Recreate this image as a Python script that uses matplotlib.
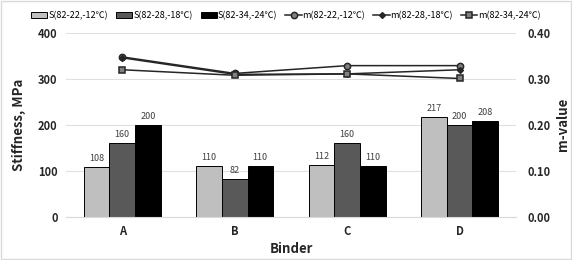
import numpy as np
import matplotlib.pyplot as plt
from matplotlib.patches import Rectangle

plt.rcParams['font.family'] = ['Noto Sans CJK KR', 'DejaVu Sans']

# data
binders = ['A', 'B', 'C', 'D']
s_22 = [108, 110, 112, 217]
s_28 = [160, 82, 160, 200]
s_34 = [200, 110, 110, 208]
m_22 = [0.348, 0.312, 0.329, 0.329]
m_28 = [0.346, 0.310, 0.311, 0.320]
m_34 = [0.320, 0.308, 0.311, 0.301]
s_names = ['S(82-22,-12\u2103)', 'S(82-28,-18\u2103)', 'S(82-34,-24\u2103)']
m_names = ['m(82-22,-12\u2103)', 'm(82-28,-18\u2103)', 'm(82-34,-24\u2103)']

fig = plt.figure(figsize=(5.72, 2.6), dpi=100)
ax = fig.add_axes([0.1154, 0.1665, 0.7866, 0.7065])
ax2 = ax.twinx()

x = np.arange(len(binders))
w = 0.227
bar_cols = ['#bfbfbf', '#595959', '#000000']
bars = []
for i, (vals, c, nm) in enumerate(zip([s_22, s_28, s_34], bar_cols, s_names)):
    b = ax.bar(x + (i - 1) * w, vals, w, color=c, edgecolor='black', linewidth=0.7, label=nm, zorder=2)
    ax.bar_label(b, padding=3, fontsize=6.5, color='#404040')
    bars.append(b)

ax.set_xlim(-0.5, 3.5)
ax.set_ylim(0, 400)
ax.set_yticks([0, 100, 200, 300, 400])
ax.set_xticks(x)
ax.set_xticklabels(binders)
ax.grid(axis='y', color='#e0e0e0', linewidth=0.8, zorder=0)
ax.set_axisbelow(True)
for sp in ax.spines.values():
    sp.set_visible(False)
for sp in ax2.spines.values():
    sp.set_visible(False)
ax.spines['bottom'].set_visible(True)
ax.spines['bottom'].set_color('#d9d9d9')
ax.tick_params(length=0, labelsize=8, pad=6)
for t in ax.get_yticklabels() + ax.get_xticklabels():
    t.set_fontweight('bold')
    t.set_color('#262626')
ax.set_ylabel('Stiffness, MPa', fontsize=9.5, fontweight='bold', color='#262626', labelpad=9)
ax.set_xlabel('Binder', fontsize=9.5, fontweight='bold', color='#262626', labelpad=3)

l1, = ax2.plot(x, m_22, color='#262626', lw=1.1, marker='o', ms=4.5, mfc='#808080', mec='#262626', mew=1.1, label=m_names[0])
l2, = ax2.plot(x, m_28, color='#262626', lw=1.1, marker='D', ms=3, mfc='#262626', mec='#262626', label=m_names[1])
l3, = ax2.plot(x, m_34, color='#262626', lw=1.1, marker='s', ms=4.5, mfc='#808080', mec='#262626', mew=1.1, label=m_names[2])
ax2.set_ylim(0, 0.4)
ax2.set_yticks([0, 0.1, 0.2, 0.3, 0.4])
ax2.set_yticklabels(['0.00', '0.10', '0.20', '0.30', '0.40'])
ax2.tick_params(length=0, labelsize=8, pad=8)
for t in ax2.get_yticklabels():
    t.set_fontweight('bold')
    t.set_color('#262626')
ax2.set_ylabel('m-value', fontsize=9.5, fontweight='bold', color='#262626', labelpad=4)

handles = bars + [l1, l2, l3]
fig.legend(handles, s_names + m_names, loc='center', bbox_to_anchor=(0.5, 0.94), ncol=6,
           frameon=False, fontsize=6.5, handlelength=1.8, handletextpad=0.1, columnspacing=0.9,
           borderaxespad=0)

fig.patches.append(Rectangle((0.002, 0.004), 0.996, 0.992, transform=fig.transFigure,
                             fill=False, edgecolor='#d9d9d9', linewidth=1))

fig.savefig('out.png', dpi=100)
